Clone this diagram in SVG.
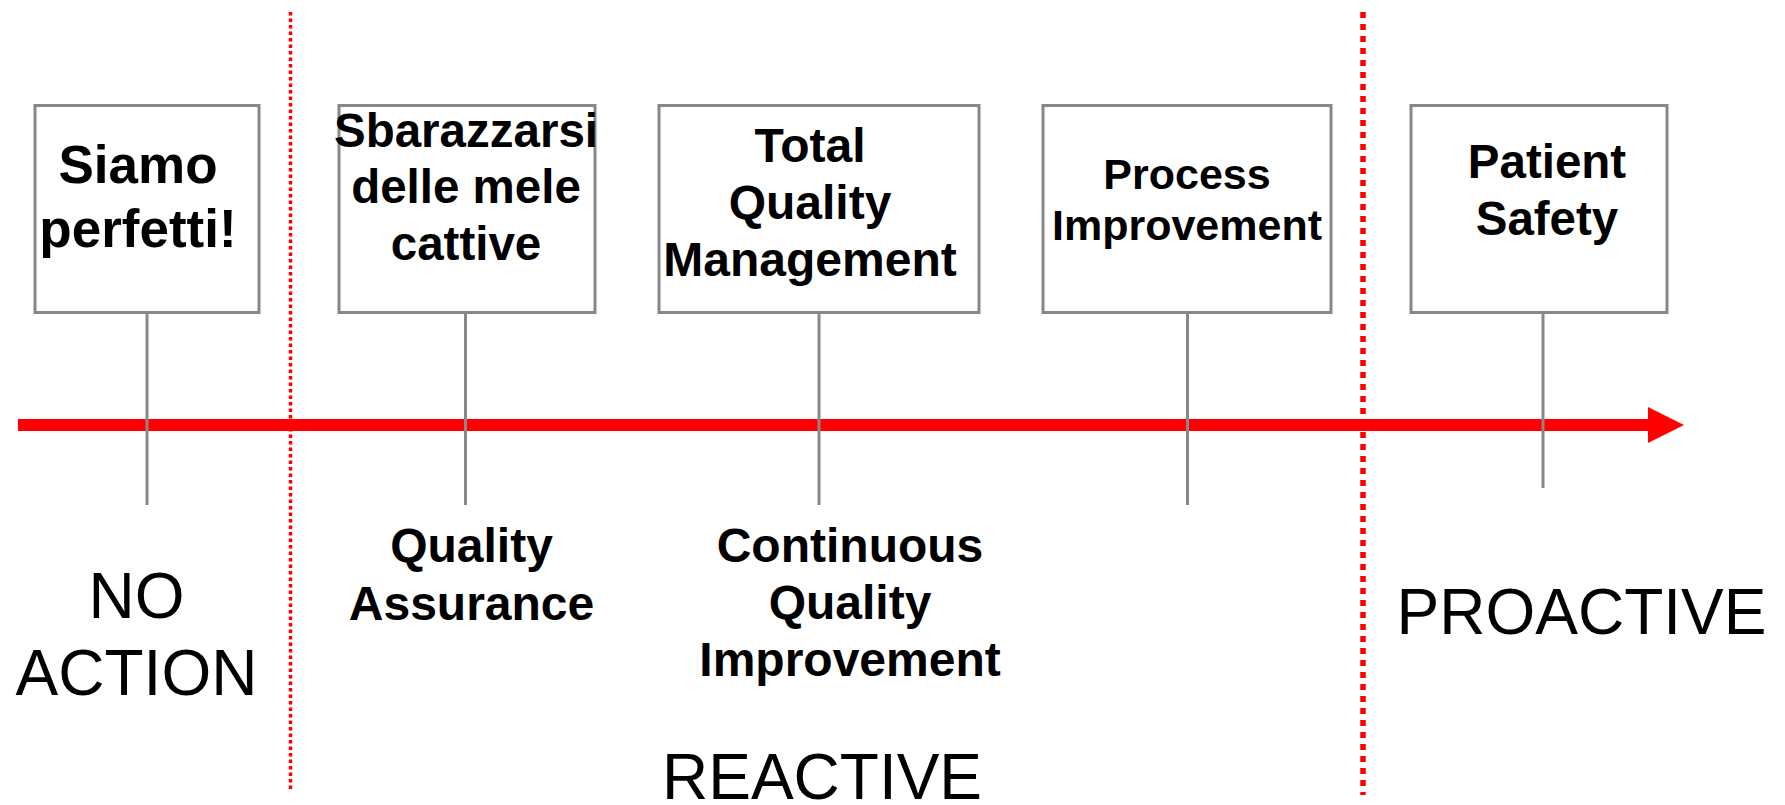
<svg xmlns="http://www.w3.org/2000/svg" width="1785" height="805" viewBox="0 0 1785 805">
  <style>
    .box { fill: #ffffff; stroke: #888888; stroke-width: 3; }
    .stem { stroke: #888888; stroke-width: 3; fill: none; }
    .divider { stroke: #ff0000; fill: none; }
    .b { font-family: "Liberation Sans", Arial, sans-serif; font-weight: bold; fill: #000000; text-anchor: middle; }
    .phase { font-family: "Liberation Sans", Arial, sans-serif; font-weight: normal; font-size: 64px; fill: #000000; text-anchor: middle; }
  </style>
  <defs>
    <marker id="arrowhead" markerUnits="userSpaceOnUse" markerWidth="36" markerHeight="36" refX="0" refY="18" orient="auto">
      <path d="M0,0 L36,18 L0,36 Z" fill="#ff0000"/>
    </marker>
  </defs>
  <rect width="1785" height="805" fill="#ffffff"/>

  <!-- phase dividers -->
  <g id="dividers">
    <line class="divider" x1="290.5" y1="12" x2="290.5" y2="792" stroke-width="3.5" stroke-dasharray="3.5 3"/>
    <line class="divider" x1="1363" y1="12" x2="1363" y2="795" stroke-width="5.5" stroke-dasharray="6 6"/>
  </g>

  <!-- timeline axis and stems -->
  <g id="connectors">
    <line x1="18" y1="425" x2="1648" y2="425" stroke="#ff0000" stroke-width="12" marker-end="url(#arrowhead)"/>
    <line class="stem" x1="147" y1="314" x2="147" y2="505"/>
    <line class="stem" x1="465.5" y1="314" x2="465.5" y2="505"/>
    <line class="stem" x1="819" y1="314" x2="819" y2="505"/>
    <line class="stem" x1="1187.5" y1="314" x2="1187.5" y2="505"/>
    <line class="stem" x1="1543" y1="314" x2="1543" y2="488"/>
  </g>

  <g id="node-siamo">
    <rect class="box" x="35" y="105.5" width="224" height="207"/>
    <text class="b" font-size="53" x="138"><tspan x="138" y="183">Siamo</tspan><tspan x="138" y="247">perfetti!</tspan></text>
  </g>

  <g id="node-sbarazzarsi">
    <rect class="box" x="339" y="105.5" width="256" height="207"/>
    <text class="b" font-size="47.5" x="466"><tspan x="466" y="147">Sbarazzarsi</tspan><tspan x="466" y="203">delle mele</tspan><tspan x="466" y="260">cattive</tspan></text>
  </g>

  <g id="node-tqm">
    <rect class="box" x="659" y="105.5" width="320" height="207"/>
    <text class="b" font-size="48" x="810"><tspan x="810" y="162">Total</tspan><tspan x="810" y="219">Quality</tspan><tspan x="810" y="276">Management</tspan></text>
  </g>

  <g id="node-process">
    <rect class="box" x="1043" y="105.5" width="288" height="207"/>
    <text class="b" font-size="43" x="1187"><tspan x="1187" y="189">Process</tspan><tspan x="1187" y="240">Improvement</tspan></text>
  </g>

  <g id="node-safety">
    <rect class="box" x="1411" y="105.5" width="256" height="207"/>
    <text class="b" font-size="47.5" x="1547"><tspan x="1547" y="178">Patient</tspan><tspan x="1547" y="235">Safety</tspan></text>
  </g>

  <g id="label-qa">
    <text class="b" font-size="48" x="471.5"><tspan x="471.5" y="562">Quality</tspan><tspan x="471.5" y="620">Assurance</tspan></text>
  </g>

  <g id="label-cqi">
    <text class="b" font-size="48" x="850"><tspan x="850" y="562">Continuous</tspan><tspan x="850" y="619">Quality</tspan><tspan x="850" y="676">Improvement</tspan></text>
  </g>

  <g id="phase-labels">
    <text class="phase" x="136.5"><tspan x="136.5" y="618">NO</tspan><tspan x="136.5" y="695">ACTION</tspan></text>
    <text class="phase" x="822" y="799">REACTIVE</text>
    <text class="phase" x="1581.5" y="634">PROACTIVE</text>
  </g>
</svg>
